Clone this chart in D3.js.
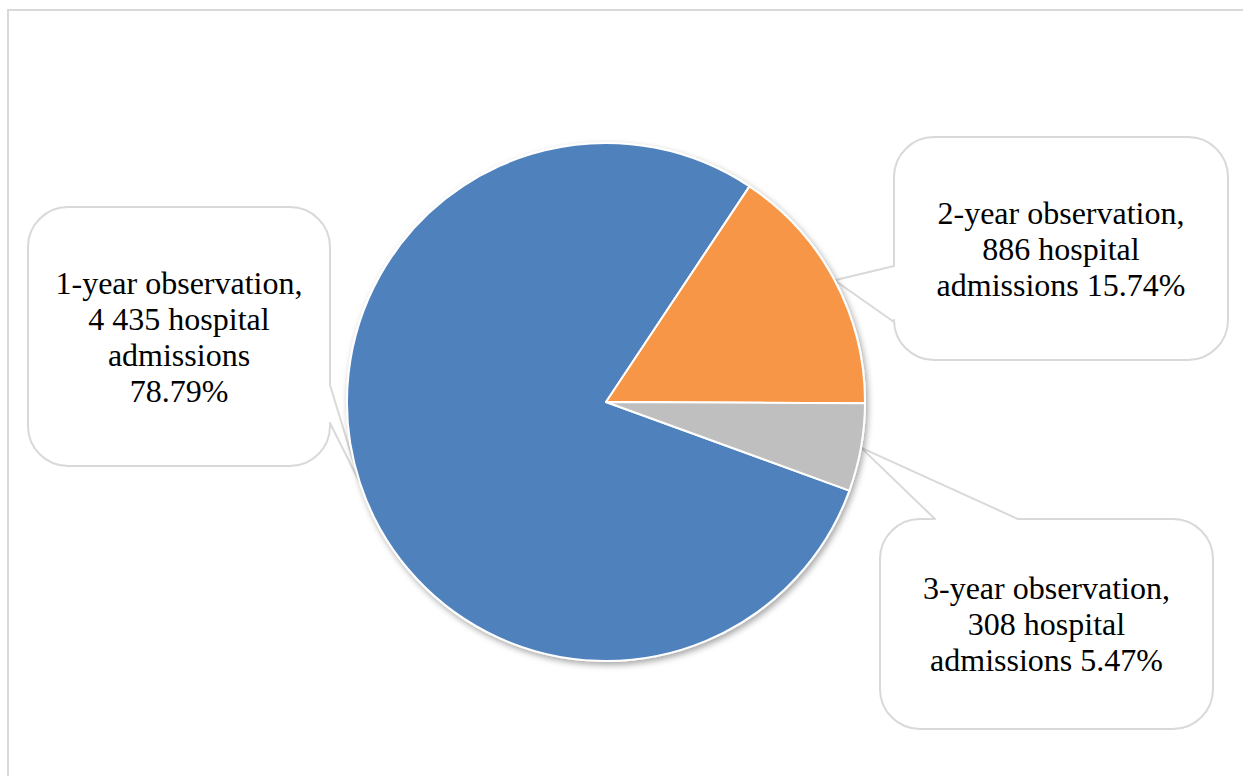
<!DOCTYPE html>
<html>
<head>
<meta charset="utf-8">
<script src="https://cdn.jsdelivr.net/npm/d3@7"></script>
<style>
  html, body { margin: 0; padding: 0; background: #ffffff; }
  svg { display: block; }
  .callout-text { font-family: "Liberation Serif", "Times New Roman", serif; font-size: 32px; fill: #000; }
</style>
</head>
<body>
<svg id="chart" width="1243" height="776"></svg>
<script>
// Hospital admissions by observation period
const categories = ["1-year observation", "2-year observation", "3-year observation"];
const admissions = [4435, 886, 308];
const sliceColors = ["#4F81BD", "#F79646", "#BFBFBF"];
// Angle of the first slice, degrees clockwise from 12 o'clock
const firstSliceAngle = 110;

// Callout boxes: x, y, width, height, and which side carries the pointer
const callouts = [
  { x: 28,  y: 207, w: 302, h: 259, side: "right",  p0: 385, p1: 423 },
  { x: 894, y: 137, w: 334, h: 223, side: "left",   p0: 266, p1: 322 },
  { x: 880, y: 519, w: 333, h: 210, side: "top",    p0: 935, p1: 1018 }
];

const total = d3.sum(admissions);
const fmtCount = v => d3.format(",")(v).replace(/,/g, " ");
const fmtPct = v => (v / total * 100).toFixed(2) + "%";

// Text lines for each callout
const labelLines = [
  [categories[0] + ",", fmtCount(admissions[0]) + " hospital", "admissions", fmtPct(admissions[0])],
  [categories[1] + ",", fmtCount(admissions[1]) + " hospital", "admissions " + fmtPct(admissions[1])],
  [categories[2] + ",", fmtCount(admissions[2]) + " hospital", "admissions " + fmtPct(admissions[2])]
];

const svg = d3.select("#chart");
const cx = 606, cy = 402, radius = 259;

// Chart area frame
svg.append("rect")
  .attr("x", 8).attr("y", 10).attr("width", 1260).attr("height", 800)
  .attr("fill", "#fff").attr("stroke", "#D9D9D9").attr("stroke-width", 2);

const defs = svg.append("defs");
const shadow = defs.append("filter").attr("id", "pieShadow")
  .attr("x", "-10%").attr("y", "-10%").attr("width", "120%").attr("height", "120%");
shadow.append("feDropShadow")
  .attr("dx", 2).attr("dy", 3).attr("stdDeviation", 3)
  .attr("flood-color", "#000").attr("flood-opacity", 0.35);

const pie = d3.pie().sort(null).value(d => d)
  .startAngle(firstSliceAngle * Math.PI / 180)
  .endAngle(firstSliceAngle * Math.PI / 180 + 2 * Math.PI);
const arcs = pie(admissions);
const arc = d3.arc().innerRadius(0).outerRadius(radius);

// Callout shapes with pointer toward each slice
function calloutPath(c, tip) {
  const r = 40;
  const x0 = c.x, y0 = c.y, x1 = c.x + c.w, y1 = c.y + c.h;
  const p = d3.path();
  p.moveTo(x0 + r, y0);
  if (c.side === "top") {
    p.lineTo(c.p0, y0); p.lineTo(tip[0], tip[1]); p.lineTo(c.p1, y0);
  }
  p.lineTo(x1 - r, y0);
  p.arcTo(x1, y0, x1, y0 + r, r);
  if (c.side === "right") {
    p.lineTo(x1, c.p0); p.lineTo(tip[0], tip[1]); p.lineTo(x1, c.p1);
  }
  p.lineTo(x1, y1 - r);
  p.arcTo(x1, y1, x1 - r, y1, r);
  p.lineTo(x0 + r, y1);
  p.arcTo(x0, y1, x0, y1 - r, r);
  if (c.side === "left") {
    p.lineTo(x0, c.p1); p.lineTo(tip[0], tip[1]); p.lineTo(x0, c.p0);
  }
  p.lineTo(x0, y0 + r);
  p.arcTo(x0, y0, x0 + r, y0, r);
  p.closePath();
  return p.toString();
}

const tipPoint = d => {
  const a = (d.startAngle + d.endAngle) / 2;
  return [cx + radius * Math.sin(a), cy - radius * Math.cos(a)];
};

const calloutG = svg.append("g");
calloutG.selectAll("path")
  .data(callouts)
  .join("path")
  .attr("d", (c, i) => calloutPath(c, tipPoint(arcs[i])))
  .attr("fill", "#fff")
  .attr("stroke", "#D9D9D9")
  .attr("stroke-width", 2)
  .attr("stroke-linejoin", "round");

// Pie slices
const pieG = svg.append("g")
  .attr("transform", `translate(${cx},${cy})`)
  .attr("filter", "url(#pieShadow)");
pieG.selectAll("path")
  .data(arcs)
  .join("path")
  .attr("d", arc)
  .attr("fill", (d, i) => sliceColors[i])
  .attr("stroke", "#fff")
  .attr("stroke-width", 2)
  .attr("stroke-linejoin", "round");

// Callout labels
const lineHeight = 36;
callouts.forEach((c, i) => {
  const lines = labelLines[i];
  const midX = c.x + c.w / 2;
  const midY = c.y + c.h / 2;
  const t = svg.append("text")
    .attr("class", "callout-text")
    .attr("text-anchor", "middle");
  lines.forEach((ln, k) => {
    t.append("tspan")
      .attr("x", midX)
      .attr("y", midY + (k - (lines.length - 1) / 2) * lineHeight)
      .attr("dy", "0.35em")
      .text(ln);
  });
});
</script>
</body>
</html>
